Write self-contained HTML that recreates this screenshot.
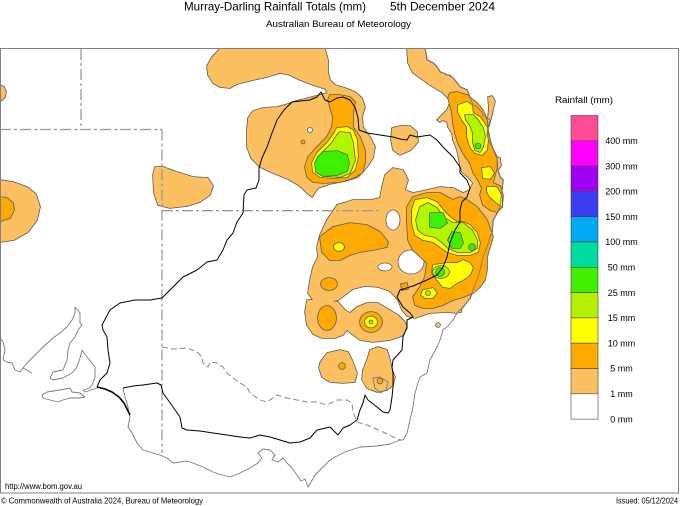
<!DOCTYPE html>
<html><head><meta charset="utf-8"><style>
html,body{margin:0;padding:0;background:#fff;}
svg{display:block;font-family:"Liberation Sans",Arial,sans-serif;}
</style></head><body>
<svg width="680" height="506" viewBox="0 0 680 506" xmlns="http://www.w3.org/2000/svg">
<defs>
<g id="l1">
<polygon points="0,85 4,87 6,92 5,97 2,100 0,101"/>
<polygon points="0,180 13,182 27,187 36,194 40,207 37,220 28,232 14,240 0,242"/>
<polygon points="155,167 163,167 177,172 193,177 208,178 213,186 210,195 200,202 187,206 170,208 158,205 154,193 153,175"/>
<polygon points="220,49 325,49 328,60 328,72 330,80 335,85 345,88 355,92 362,98 365,107 362,117 363,127 370,137 375,147 373,158 367,167 358,177 345,181 330,184 318,188 312,197 307,193 300,186 288,179 273,173 260,167 251,158 247,147 247,130 248,118 253,111 263,108 277,107 288,104 296,101 305,99 312,97 320,95 327,93 326,89 313,85 300,80 290,75 280,73 267,77 253,80 237,84 230,88 220,87 213,83 208,75 207,66 212,57"/>
<polygon points="407,49 425,49 427,60 433,63 437,67 440,72 447,75 453,78 457,83 460,87 467,90 473,105 477,107 482,112 483,115 490,120 488,127 487,135 490,143 497,157 497,167 500,177 503,180 500,207 497,213 493,220 492,233 490,237 487,247 483,257 480,270 477,280 473,290 470,298 463,307 457,313 447,312 430,313 415,318 407,316 402,310 398,300 390,291 378,287 365,286 353,289 345,295 338,300 325,303 313,300 308,293 310,280 313,267 318,257 317,247 320,235 327,220 337,205 353,200 370,200 380,198 382,187 385,175 393,168 403,170 408,180 405,190 413,193 427,190 440,187 453,188 463,193 470,190 473,183 468,177 462,172 460,165 457,150 453,140 452,133 448,127 447,122 443,120 440,122 437,120 440,117 447,110 450,103 448,98 443,93 433,87 423,80 413,73 408,63"/>
<polygon points="307,300 325,300 338,302 345,310 350,313 357,307 367,303 378,303 388,309 398,315 405,322 407,328 402,336 390,340 373,342 360,340 352,334 347,330 343,335 335,338 322,338 313,334 307,325 305,312"/>
<polygon points="320,363 327,353 340,350 348,352 352,360 357,373 355,382 343,383 330,382 322,377 319,368"/>
<polygon points="370,350 378,347 387,350 390,360 392,370 395,377 393,385 387,390 377,392 367,388 362,380 363,370 367,360"/>
<polygon points="392,128 400,126 410,126 417,132 418,142 411,150 400,155 393,150 391,140"/>
<polygon points="488,97 492,96 495,101 493,110 491,118 489,126 488,118 489,108"/>
<polygon points="497,157 500,158 501,166 498,170"/>
<circle cx="438" cy="325" r="2"/>
<circle cx="460" cy="311" r="1.5"/>
</g>
<g id="holes">
<circle cx="310" cy="130" r="2.5"/>
<ellipse cx="393" cy="220" rx="7" ry="10"/>
<ellipse cx="411" cy="262" rx="13" ry="12"/>
<ellipse cx="385" cy="267" rx="7" ry="4"/>
</g>
<g id="l2">
<polygon points="330,95 340,95 350,97 355,102 353,113 353,127 360,137 365,150 365,163 362,173 353,178 340,182 323,183 313,182 307,177 305,167 308,157 317,147 327,137 332,127 333,117 330,107 328,100"/>
<circle cx="303" cy="142" r="1.5"/>
<polygon points="0,197 7,198 13,203 14,210 10,218 3,220 0,222"/>
<polygon points="320,237 333,227 350,223 367,225 380,232 388,242 387,247 373,250 360,252 350,255 340,260 330,260 322,252"/>
<polygon points="407,207 413,197 427,193 440,193 453,200 460,197 467,200 477,207 487,220 493,237 490,247 487,257 487,270 485,280 480,287 473,293 463,297 453,300 443,305 433,308 423,308 415,305 413,297 420,287 425,277 427,263 413,250 408,240 407,223"/>
<polygon points="450,93 457,92 467,95 477,103 483,110 487,120 488,130 490,140 493,150 497,160 497,167 495,175 493,183 500,186 503,195 502,207 497,212 490,210 483,205 480,195 482,188 478,180 473,172 470,163 463,153 458,143 455,133 453,123 452,113 450,105 448,98"/>
<ellipse cx="329" cy="284" rx="8" ry="6"/>
<ellipse cx="327" cy="318" rx="9" ry="12"/>
<ellipse cx="371" cy="322" rx="11" ry="10"/>
<circle cx="342" cy="366" r="3"/>
<circle cx="380" cy="381" r="2.5"/>
<polygon points="401,284 407,283 408,289 402,290"/>
</g>
<g id="l3">
<polygon points="337,128 347,127 353,130 357,140 358,157 355,170 347,177 333,178 320,177 313,172 312,163 317,153 327,143 333,135"/>
<ellipse cx="339" cy="247" rx="5" ry="4"/>
<polygon points="415,200 427,198 437,202 443,210 450,217 457,222 463,222 470,225 477,233 480,243 478,252 470,255 457,255 447,252 440,247 433,242 423,240 415,235 412,223 412,210"/>
<polygon points="433,265 447,263 457,263 463,260 470,263 473,268 470,275 463,280 457,283 450,288 443,287 437,280 432,273"/>
<polygon points="423,290 433,288 437,293 433,298 425,298 421,295"/>
<polygon points="458,105 467,102 472,105 473,113 480,117 487,127 488,140 487,150 482,155 475,153 470,147 467,137 467,127 462,120 458,112"/>
<polygon points="482,168 490,167 494,173 490,179 483,178"/>
<polygon points="487,187 497,187 502,197 502,207 497,203 490,197 487,192"/>
<ellipse cx="371" cy="322" rx="6" ry="5.5"/>
</g>
<g id="l4">
<polygon points="340,132 350,133 353,143 355,160 350,173 340,177 323,176 316,170 317,160 323,152 332,143 337,135"/>
<polygon points="420,207 428,203 437,208 443,217 453,223 463,223 472,230 477,240 477,248 470,252 457,252 448,248 443,243 435,237 425,235 418,230 416,220"/>
<ellipse cx="441" cy="272" rx="8" ry="6"/>
<circle cx="428" cy="293" r="2"/>
<polygon points="465,115 473,115 478,120 483,128 485,137 483,147 480,152 475,150 473,142 473,133 470,125 466,120"/>
<circle cx="371" cy="322" r="1.5"/>
</g>
<g id="l5">
<polygon points="323,152 337,151 347,155 349,163 347,171 337,175 323,176 316,172 315,163 318,157"/>
<polygon points="430,213 443,213 447,223 440,228 430,227"/>
<polygon points="452,232 460,233 463,243 460,248 452,248 448,240"/>
<circle cx="472" cy="247" r="3"/>
<circle cx="440" cy="272" r="4"/>
<circle cx="478" cy="146" r="2.5"/>
</g>
</defs>

<!-- rainfall levels -->
<g stroke-linejoin="round">
<use href="#l1" fill="#fdc060" stroke="#5a5a5a" stroke-width="1.6"/>
<use href="#l1" fill="#fdc060"/>
<use href="#holes" fill="#ffffff" stroke="#5a5a5a" stroke-width="0.8"/>
<use href="#l2" fill="#ffaa00" stroke="#5a5a5a" stroke-width="1.6"/>
<use href="#l2" fill="#ffaa00"/>
<use href="#l3" fill="#ffff00" stroke="#5a5a5a" stroke-width="1.6"/>
<use href="#l3" fill="#ffff00"/>
<use href="#l4" fill="#b4f500" stroke="#5a5a5a" stroke-width="1.6"/>
<use href="#l4" fill="#b4f500"/>
<use href="#l5" fill="#3cf000" stroke="#5a5a5a" stroke-width="1.6"/>
<use href="#l5" fill="#3cf000"/>
</g>

<!-- state borders (dash-dot) -->
<g fill="none" stroke="#9a9a9a" stroke-width="1.3" stroke-dasharray="11 3 3 3">
<line x1="81" y1="49" x2="81" y2="129.5"/>
<line x1="0" y1="129.5" x2="162" y2="129.5"/>
<line x1="162" y1="129.5" x2="162" y2="453"/>
<line x1="162" y1="210.7" x2="379" y2="210.7"/>
</g>
<polyline fill="none" stroke="#8a8a8a" stroke-width="1" stroke-dasharray="6 3" points="162,347 173,349 187,348 197,352 202,357 203,363 208,367 210,362 217,363 223,367 227,373 233,378 240,383 247,387 250,393 260,400 267,402 277,395 287,398 297,400 307,402 317,402 327,405 337,400 347,400 352,403 353,412 357,422 367,425 383,432 400,440 403,440"/>

<!-- coastline -->
<g fill="none" stroke="#7a7a7a" stroke-width="0.9" stroke-linejoin="round">
<polyline points="0,338 3,342 5,350 3,360 7,362 12,363 15,370 20,372 23,368 27,370 32,373"/>
<polyline points="23,368 27,363 33,357 43,347 53,338 60,333 67,327 72,320 75,313 75,307 80,313 80,323 82,325 78,330 75,337 70,343 68,350 67,360 63,370 53,372 50,378 53,380 63,378 72,373 77,367 80,358 82,350 87,357 92,363 95,367 95,377 93,383 90,388 83,390 85,392 97,388"/>
<polygon points="42,395 47,392 60,390 70,388 72,392 80,393 85,397 80,398 70,398 63,400 58,402 50,400 43,398"/>
<polyline points="123,388 125,397 128,407 130,417 128,427 132,433 137,443 143,450 153,453 160,455 167,458 173,463 180,462 187,461 193,463 203,467 213,472 222,475 230,477 240,473 250,468 258,463 262,458 258,453 263,449 270,450 275,455 272,460 278,462 283,458 287,463 292,468 297,475 301,481 305,479 308,487 311,482 315,475 322,468 330,460 335,457 345,452 360,447 377,446 390,444 400,440 403,440 407,433 410,420 413,407 415,393 418,383 420,377 427,373 430,360 437,347 440,340 443,330 447,327 453,320 457,313 460,310 463,307 470,298 473,290 477,280 480,270 483,257 487,247 490,237 492,233 493,220 497,213 500,207 503,180 500,177 497,167 497,157 490,143 487,135 488,127 490,120 483,115 482,112 477,107 473,105 467,90 460,87 457,83 453,78 450,75 447,75 440,72 437,67 433,63 427,60 425,49"/>
<polygon points="373,378 380,377 388,382 386,390 380,393 375,388"/>
</g>

<!-- basin boundary -->
<g fill="none" stroke="#000" stroke-width="1" stroke-linejoin="round">
<polyline points="97,387 100,380 107,373 110,363 108,350 107,337 103,330 102,325 110,310 120,303 135,300 150,300 162,298 173,287 183,277 197,270 207,262 217,260 223,250 227,240 233,233 237,222 243,213 244,195 247,190 256,188 259,180 259,168 262,158 267,147 272,133 277,120 284,110 292,102 300,101 310,100 317,97 321,92 325,100 330,102 337,98 343,97 350,100 355,107 358,118 359,130 367,133 380,135 393,137 400,139 407,140 410,135 417,137 430,135 437,140 443,147 453,157 460,167 460,173 467,180 470,188 467,197 462,202 460,210 460,222 455,230 450,243 447,257 443,267 437,275 427,280 413,286 400,290 397,297 403,307 410,313 413,317 407,320 407,327 403,337 402,350 393,360 392,367 393,373 393,387 392,397 390,410 388,413 383,412 377,407 368,400 365,395 363,403 360,410 357,420 350,425 343,428 338,435 330,427 317,430 310,438 300,442 290,443 280,440 270,437 260,435 250,438 240,437 227,435 213,433 200,431 187,430 182,428 180,417 173,407 163,393 161,385 157,383 143,385 133,386 123,388"/>
<polyline stroke-width="1.6" points="97,387 105,389 112,392 119,397 124,403 127,409 130,415"/>
</g>

<!-- frame -->
<rect x="0.5" y="48.5" width="678" height="444.5" fill="none" stroke="#808080" stroke-width="1"/>

<!-- legend -->
<g stroke="#444" stroke-width="0.6">
<rect x="571" y="115.5" width="27" height="25.3" fill="#ff4d94"/>
<rect x="571" y="140.8" width="27" height="25.3" fill="#ff00ff"/>
<rect x="571" y="166.1" width="27" height="25.3" fill="#a000f0"/>
<rect x="571" y="191.4" width="27" height="25.3" fill="#3c3cf0"/>
<rect x="571" y="216.7" width="27" height="25.3" fill="#00aaf0"/>
<rect x="571" y="242" width="27" height="25.3" fill="#00dca0"/>
<rect x="571" y="267.3" width="27" height="25.3" fill="#40f000"/>
<rect x="571" y="292.6" width="27" height="25.3" fill="#b4f000"/>
<rect x="571" y="317.9" width="27" height="25.3" fill="#ffff00"/>
<rect x="571" y="343.2" width="27" height="25.3" fill="#ffaa00"/>
<rect x="571" y="368.5" width="27" height="25.3" fill="#fdc060"/>
<rect x="571" y="393.8" width="27" height="25.3" fill="#ffffff"/>
</g>
<g font-size="9" fill="#000" text-anchor="middle">
<text x="584" y="103" textLength="58" lengthAdjust="spacingAndGlyphs">Rainfall (mm)</text>
<text x="621.5" y="144">400 mm</text>
<text x="621.5" y="169.3">300 mm</text>
<text x="621.5" y="194.6">200 mm</text>
<text x="621.5" y="219.9">150 mm</text>
<text x="621.5" y="245.2">100 mm</text>
<text x="621.5" y="270.5">50 mm</text>
<text x="621.5" y="295.8">25 mm</text>
<text x="621.5" y="321.1">15 mm</text>
<text x="621.5" y="346.4">10 mm</text>
<text x="621.5" y="371.7">5 mm</text>
<text x="621.5" y="397">1 mm</text>
<text x="621.5" y="422.3">0 mm</text>
</g>

<!-- titles -->
<g fill="#000">
<text x="184" y="10.5" font-size="12" textLength="182" lengthAdjust="spacingAndGlyphs">Murray-Darling Rainfall Totals (mm)</text>
<text x="390" y="10.5" font-size="12" textLength="105" lengthAdjust="spacingAndGlyphs">5th December 2024</text>
<text x="266" y="27" font-size="9.5" textLength="145" lengthAdjust="spacingAndGlyphs">Australian Bureau of Meteorology</text>
<text x="5" y="489" font-size="8" textLength="77" lengthAdjust="spacingAndGlyphs">http://www.bom.gov.au</text>
<text x="1" y="503.5" font-size="8.5" textLength="202" lengthAdjust="spacingAndGlyphs">© Commonwealth of Australia 2024, Bureau of Meteorology</text>
<text x="616" y="503.5" font-size="8.5" textLength="62" lengthAdjust="spacingAndGlyphs">Issued: 05/12/2024</text>
</g>
</svg>
</body></html>
